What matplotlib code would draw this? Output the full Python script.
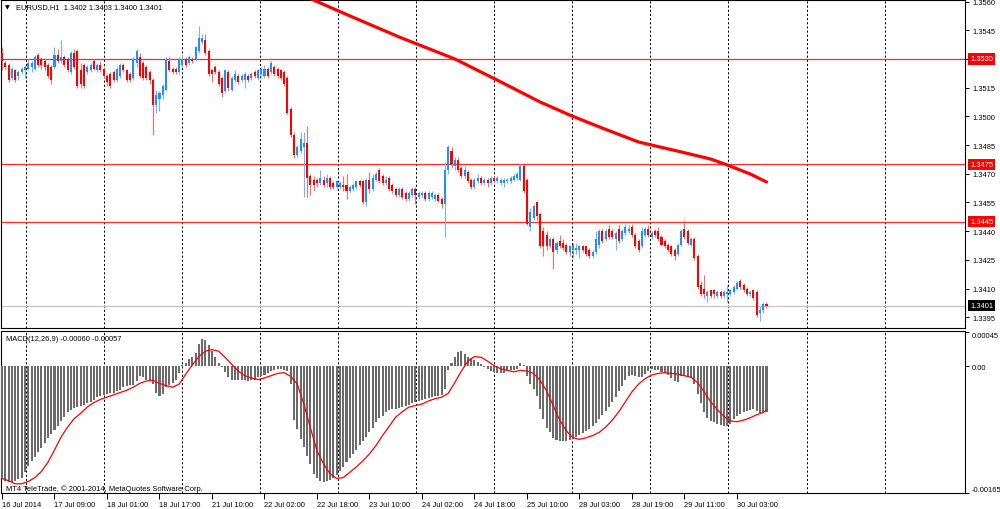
import numpy as np
import matplotlib
matplotlib.use("Agg")
import matplotlib.pyplot as plt
import matplotlib.transforms as mtrans

plt.rcParams["font.family"] = ["Liberation Sans", "DejaVu Sans"]

# ---------------- data (EURUSD H1) ----------------
opens = [
    1.3533, 1.3528, 1.3527, 1.3520, 1.3524, 1.3521, 1.3523, 1.3524, 1.3525, 1.3526,
    1.3525, 1.3532, 1.3530, 1.3529, 1.3527, 1.3526, 1.3526, 1.3532, 1.3529, 1.3531,
    1.3530, 1.3523, 1.3533, 1.3534, 1.3524, 1.3527, 1.3523, 1.3524, 1.3529, 1.3524,
    1.3527, 1.3525, 1.3521, 1.3522, 1.3523, 1.3519, 1.3521, 1.3527, 1.3524, 1.3522,
    1.3520, 1.3528, 1.3531, 1.3528, 1.3526, 1.3523, 1.3519, 1.3506, 1.3509, 1.3511,
    1.3514, 1.3529, 1.3525, 1.3525, 1.3523, 1.3527, 1.3530, 1.3528, 1.3530, 1.3530,
    1.3534, 1.3539, 1.3540, 1.3534, 1.3524, 1.3526, 1.3523, 1.3520, 1.3513, 1.3523,
    1.3514, 1.3519, 1.3521, 1.3519, 1.3519, 1.3521, 1.3520, 1.3523, 1.3520, 1.3522,
    1.3521, 1.3525, 1.3523, 1.3526, 1.3525, 1.3524, 1.3523, 1.3520, 1.3504, 1.3490,
    1.3480, 1.3482, 1.3484, 1.3486, 1.3469, 1.3467, 1.3467, 1.3465, 1.3467, 1.3465,
    1.3468, 1.3465, 1.3463, 1.3463, 1.3464, 1.3464, 1.3461, 1.3462, 1.3463, 1.3466,
    1.3466, 1.3455, 1.3467, 1.3462, 1.3467, 1.3472, 1.3469, 1.3465, 1.3468, 1.3464,
    1.3462, 1.3459, 1.3462, 1.3460, 1.3457, 1.3459, 1.3462, 1.3458, 1.3459, 1.3460,
    1.3457, 1.3458, 1.3457, 1.3459, 1.3457, 1.3454, 1.3472, 1.3482, 1.3474, 1.3477,
    1.3473, 1.3469, 1.3471, 1.3467, 1.3463, 1.3466, 1.3468, 1.3465, 1.3467, 1.3465,
    1.3468, 1.3466, 1.3465, 1.3465, 1.3466, 1.3466, 1.3467, 1.3468, 1.3467, 1.3474,
    1.3467, 1.3442, 1.3447, 1.3455, 1.3449, 1.3440, 1.3438, 1.3432, 1.3436, 1.3430,
    1.3435, 1.3434, 1.3433, 1.3429, 1.3430, 1.3430, 1.3430, 1.3432, 1.3432, 1.3430,
    1.3427, 1.3429, 1.3433, 1.3440, 1.3436, 1.3441, 1.3440, 1.3436, 1.3441, 1.3436,
    1.3439, 1.3440, 1.3442, 1.3438, 1.3435, 1.3432, 1.3438, 1.3441, 1.3437, 1.3440,
    1.3440, 1.3437, 1.3435, 1.3433, 1.3432, 1.3430, 1.3428, 1.3433, 1.3441, 1.3440,
    1.3433, 1.3436, 1.3427, 1.3412, 1.3410, 1.3406, 1.3409, 1.3409, 1.3406, 1.3408,
    1.3406, 1.3407, 1.3407, 1.3408, 1.3410, 1.3414, 1.3412, 1.3410, 1.3407, 1.3409,
    1.3408, 1.3397, 1.3399, 1.3402,
]
highs = [
    1.3536, 1.3529, 1.3528, 1.3526, 1.3525, 1.3524, 1.3526, 1.3527, 1.3530, 1.3529,
    1.3532, 1.3533, 1.3531, 1.3530, 1.3528, 1.3527, 1.3536, 1.3535, 1.3540, 1.3532,
    1.3531, 1.3534, 1.3535, 1.3535, 1.3528, 1.3528, 1.3527, 1.3528, 1.3530, 1.3528,
    1.3529, 1.3526, 1.3522, 1.3523, 1.3524, 1.3526, 1.3528, 1.3528, 1.3525, 1.3523,
    1.3531, 1.3535, 1.3533, 1.3529, 1.3527, 1.3524, 1.3520, 1.3514, 1.3513, 1.3517,
    1.3531, 1.3531, 1.3526, 1.3526, 1.3531, 1.3532, 1.3531, 1.3532, 1.3531, 1.3537,
    1.3547, 1.3543, 1.3543, 1.3535, 1.3525, 1.3527, 1.3524, 1.3521, 1.3525, 1.3524,
    1.3521, 1.3524, 1.3522, 1.3522, 1.3523, 1.3522, 1.3523, 1.3524, 1.3525, 1.3526,
    1.3527, 1.3526, 1.3529, 1.3527, 1.3526, 1.3525, 1.3524, 1.3521, 1.3505, 1.3492,
    1.3485, 1.3492, 1.3492, 1.3495, 1.3470, 1.3469, 1.3468, 1.3472, 1.3469, 1.3470,
    1.3469, 1.3466, 1.3467, 1.3466, 1.3469, 1.3470, 1.3464, 1.3465, 1.3467, 1.3467,
    1.3467, 1.3468, 1.3471, 1.3470, 1.3471, 1.3473, 1.3470, 1.3469, 1.3469, 1.3465,
    1.3463, 1.3463, 1.3463, 1.3461, 1.3461, 1.3463, 1.3463, 1.3461, 1.3461, 1.3461,
    1.3461, 1.3461, 1.3460, 1.3460, 1.3458, 1.3476, 1.3485, 1.3484, 1.3479, 1.3479,
    1.3474, 1.3474, 1.3472, 1.3468, 1.3468, 1.3470, 1.3469, 1.3468, 1.3468, 1.3469,
    1.3469, 1.3469, 1.3468, 1.3468, 1.3468, 1.3469, 1.3470, 1.3471, 1.3475, 1.3475,
    1.3468, 1.3452, 1.3454, 1.3456, 1.3450, 1.3442, 1.3440, 1.3437, 1.3437, 1.3435,
    1.3438, 1.3436, 1.3434, 1.3433, 1.3434, 1.3434, 1.3433, 1.3433, 1.3433, 1.3431,
    1.3430, 1.3440, 1.3441, 1.3441, 1.3441, 1.3443, 1.3441, 1.3440, 1.3443, 1.3441,
    1.3444, 1.3443, 1.3444, 1.3439, 1.3436, 1.3442, 1.3442, 1.3443, 1.3440, 1.3441,
    1.3442, 1.3438, 1.3436, 1.3434, 1.3433, 1.3431, 1.3434, 1.3441, 1.3446, 1.3441,
    1.3437, 1.3437, 1.3428, 1.3414, 1.3417, 1.3409, 1.3410, 1.3410, 1.3409, 1.3409,
    1.3409, 1.3412, 1.3410, 1.3412, 1.3414, 1.3415, 1.3413, 1.3411, 1.3409, 1.3410,
    1.3409, 1.3401, 1.3403, 1.3403,
]
lows = [
    1.3524, 1.3525, 1.3518, 1.3519, 1.3518, 1.3519, 1.3522, 1.3520, 1.3524, 1.3523,
    1.3524, 1.3526, 1.3525, 1.3524, 1.3520, 1.3517, 1.3525, 1.3528, 1.3528, 1.3526,
    1.3523, 1.3522, 1.3525, 1.3515, 1.3515, 1.3515, 1.3522, 1.3523, 1.3524, 1.3523,
    1.3523, 1.3520, 1.3516, 1.3515, 1.3518, 1.3518, 1.3520, 1.3523, 1.3518, 1.3518,
    1.3519, 1.3526, 1.3520, 1.3519, 1.3519, 1.3517, 1.3490, 1.3502, 1.3503, 1.3509,
    1.3513, 1.3523, 1.3522, 1.3522, 1.3522, 1.3526, 1.3526, 1.3527, 1.3528, 1.3529,
    1.3533, 1.3538, 1.3532, 1.3521, 1.3518, 1.3522, 1.3516, 1.3510, 1.3512, 1.3513,
    1.3513, 1.3518, 1.3517, 1.3518, 1.3515, 1.3518, 1.3519, 1.3520, 1.3519, 1.3521,
    1.3520, 1.3520, 1.3522, 1.3521, 1.3520, 1.3519, 1.3516, 1.3501, 1.3489, 1.3478,
    1.3479, 1.3481, 1.3458, 1.3458, 1.3459, 1.3461, 1.3463, 1.3464, 1.3463, 1.3463,
    1.3462, 1.3462, 1.3462, 1.3462, 1.3461, 1.3457, 1.3460, 1.3461, 1.3462, 1.3463,
    1.3454, 1.3453, 1.3460, 1.3461, 1.3466, 1.3465, 1.3464, 1.3464, 1.3461, 1.3460,
    1.3458, 1.3458, 1.3457, 1.3456, 1.3456, 1.3458, 1.3454, 1.3457, 1.3458, 1.3456,
    1.3456, 1.3457, 1.3456, 1.3455, 1.3452, 1.3437, 1.3470, 1.3473, 1.3472, 1.3471,
    1.3468, 1.3468, 1.3465, 1.3462, 1.3462, 1.3465, 1.3464, 1.3464, 1.3463, 1.3464,
    1.3465, 1.3465, 1.3464, 1.3463, 1.3465, 1.3465, 1.3466, 1.3467, 1.3466, 1.3460,
    1.3443, 1.3440, 1.3446, 1.3446, 1.3431, 1.3427, 1.3430, 1.3431, 1.3420, 1.3428,
    1.3431, 1.3430, 1.3428, 1.3427, 1.3426, 1.3428, 1.3426, 1.3429, 1.3427, 1.3426,
    1.3426, 1.3428, 1.3431, 1.3434, 1.3435, 1.3436, 1.3436, 1.3430, 1.3434, 1.3435,
    1.3438, 1.3439, 1.3437, 1.3431, 1.3429, 1.3431, 1.3437, 1.3437, 1.3436, 1.3437,
    1.3435, 1.3432, 1.3431, 1.3429, 1.3427, 1.3425, 1.3427, 1.3432, 1.3436, 1.3433,
    1.3432, 1.3425, 1.3410, 1.3406, 1.3405, 1.3403, 1.3405, 1.3405, 1.3405, 1.3405,
    1.3405, 1.3403, 1.3406, 1.3407, 1.3409, 1.3410, 1.3408, 1.3406, 1.3406, 1.3404,
    1.3395, 1.3393, 1.3397, 1.3400,
]
closes = [
    1.3529, 1.3526, 1.3519, 1.3525, 1.3519, 1.3523, 1.3525, 1.3526, 1.3528, 1.3528,
    1.3531, 1.3527, 1.3527, 1.3526, 1.3521, 1.3519, 1.3532, 1.3529, 1.3531, 1.3527,
    1.3524, 1.3533, 1.3526, 1.3516, 1.3517, 1.3516, 1.3526, 1.3527, 1.3525, 1.3527,
    1.3524, 1.3521, 1.3518, 1.3516, 1.3519, 1.3525, 1.3527, 1.3524, 1.3519, 1.3519,
    1.3530, 1.3534, 1.3521, 1.3520, 1.3520, 1.3519, 1.3506, 1.3511, 1.3512, 1.3516,
    1.3530, 1.3524, 1.3523, 1.3523, 1.3530, 1.3530, 1.3527, 1.3531, 1.3529, 1.3536,
    1.3541, 1.3541, 1.3533, 1.3522, 1.3522, 1.3523, 1.3517, 1.3512, 1.3524, 1.3515,
    1.3520, 1.3522, 1.3518, 1.3521, 1.3522, 1.3519, 1.3522, 1.3521, 1.3524, 1.3525,
    1.3525, 1.3521, 1.3528, 1.3522, 1.3521, 1.3520, 1.3517, 1.3502, 1.3490, 1.3480,
    1.3484, 1.3488, 1.3486, 1.3468, 1.3464, 1.3464, 1.3465, 1.3468, 1.3464, 1.3468,
    1.3463, 1.3463, 1.3466, 1.3465, 1.3463, 1.3461, 1.3463, 1.3464, 1.3466, 1.3464,
    1.3455, 1.3467, 1.3462, 1.3468, 1.3470, 1.3466, 1.3465, 1.3467, 1.3462, 1.3461,
    1.3459, 1.3462, 1.3458, 1.3457, 1.3460, 1.3462, 1.3459, 1.3460, 1.3460, 1.3457,
    1.3460, 1.3460, 1.3459, 1.3456, 1.3454, 1.3472, 1.3484, 1.3475, 1.3477, 1.3472,
    1.3469, 1.3472, 1.3466, 1.3463, 1.3467, 1.3468, 1.3465, 1.3467, 1.3465, 1.3468,
    1.3466, 1.3468, 1.3467, 1.3467, 1.3467, 1.3468, 1.3469, 1.3470, 1.3474, 1.3461,
    1.3444, 1.3450, 1.3453, 1.3448, 1.3432, 1.3432, 1.3432, 1.3436, 1.3429, 1.3434,
    1.3432, 1.3431, 1.3429, 1.3432, 1.3433, 1.3431, 1.3432, 1.3430, 1.3428, 1.3427,
    1.3429, 1.3436, 1.3440, 1.3435, 1.3440, 1.3437, 1.3437, 1.3439, 1.3435, 1.3440,
    1.3442, 1.3441, 1.3438, 1.3432, 1.3430, 1.3440, 1.3441, 1.3438, 1.3439, 1.3438,
    1.3436, 1.3433, 1.3432, 1.3430, 1.3428, 1.3427, 1.3433, 1.3440, 1.3437, 1.3434,
    1.3436, 1.3426, 1.3411, 1.3407, 1.3407, 1.3408, 1.3406, 1.3407, 1.3408, 1.3406,
    1.3408, 1.3408, 1.3409, 1.3411, 1.3413, 1.3411, 1.3409, 1.3407, 1.3408, 1.3405,
    1.3396, 1.3399, 1.3402, 1.3401,
]

# MACD main line (histogram), in units of 0.00001
macd_hist = [
    -145, -149, -151, -151, -150, -147, -145, -138, -130, -123,
    -118, -112, -106, -100, -93, -88, -83, -77, -71, -66,
    -60, -57, -54, -53, -51, -50, -48, -46, -44, -40,
    -38, -37, -36, -35, -34, -32, -31, -27, -25, -24,
    -24, -19, -13, -14, -18, -19, -23, -35, -38, -36,
    -27, -24, -21, -18, -8, 2, 4, 10, 13, 18,
    29, 36, 34, 28, 20, 12, 5, -1, -7, -14,
    -17, -17, -17, -18, -18, -19, -18, -17, -14, -13,
    -11, -8, -6, -5, -3, -3, -4, -6, -23, -70,
    -82, -95, -105, -117, -127, -140, -146, -150, -151, -150,
    -148, -146, -141, -136, -131, -125, -120, -114, -109, -103,
    -97, -92, -86, -80, -73, -67, -64, -60, -57, -56,
    -56, -54, -53, -52, -50, -48, -46, -45, -44, -43,
    -41, -40, -39, -38, -37, -30, -5, 5, 12, 19,
    20, 16, 13, 11, 9, 6, 3, -1, -3, -6,
    -7, -9, -9, -8, -6, -5, -4, -3, 5, 2,
    -13, -23, -30, -38, -56, -69, -80, -86, -93, -96,
    -97, -97, -97, -96, -95, -92, -90, -87, -84, -81,
    -78, -74, -69, -63, -58, -53, -46, -40, -32, -25,
    -18, -13, -11, -12, -14, -14, -10, -6, -3, -4,
    -5, -7, -9, -11, -15, -19, -20, -13, -13, -13,
    -15, -23, -36, -48, -60, -67, -71, -73, -75, -76,
    -77, -77, -75, -69, -65, -62, -60, -58, -57, -55,
    -58, -61, -61, -60,
]

# MACD signal line, read every second bar, in units of 0.00001
signal_bars = list(range(0, 233, 2)) + [233]
signal_vals = [
    -146, -149, -153, -153, -150, -145, -137, -125, -109, -92,
    -79, -68, -61, -53, -47, -43, -40, -37, -34, -31,
    -27, -22, -19, -18, -22, -25, -27, -23, -10, 2,
    13, 20, 22, 20, 12, 3, -6, -12, -15, -17,
    -15, -12, -9, -8, -13, -23, -49, -80, -110, -127,
    -140, -146, -145, -138, -131, -123, -114, -103, -90, -78,
    -66, -59, -53, -51, -49, -45, -42, -40, -35, -21,
    -6, 7, 13, 12, 7, 1, -3, -5, -7, -5,
    -6, -9, -18, -32, -51, -70, -84, -93, -95, -93,
    -90, -86, -79, -70, -59, -46, -33, -23, -16, -11,
    -9, -8, -9, -10, -12, -14, -21, -33, -46, -56,
    -65, -71, -72, -70, -67, -63, -60, -57,
]

# thick red moving average
ma_bars = [92, 106, 121, 138, 152, 164, 173, 182, 194, 207, 216, 221, 228, 233]
ma_vals = [1.35630, 1.35525, 1.35415, 1.35300, 1.35180, 1.35075, 1.35007,
           1.34945, 1.34866, 1.34814, 1.34777, 1.34746, 1.34699, 1.34657]

levels = [1.3530, 1.3475, 1.3445]
last_price = 1.3401

price_ticks = [1.3395, 1.3410, 1.3425, 1.3440, 1.3455, 1.3470,
               1.3485, 1.3500, 1.3515, 1.3530, 1.3545, 1.3560]
tick_bars = list(range(0, 225, 16))
tick_labels = ["16 Jul 2014", "17 Jul 09:00", "18 Jul 01:00", "18 Jul 17:00",
               "21 Jul 10:00", "22 Jul 02:00", "22 Jul 18:00", "23 Jul 10:00",
               "24 Jul 02:00", "24 Jul 18:00", "25 Jul 10:00", "28 Jul 03:00",
               "28 Jul 19:00", "29 Jul 11:00", "30 Jul 03:00"]

# ---------------- figure ----------------
W, H = 1000, 510
fig = plt.figure(figsize=(W / 100, H / 100), dpi=100)
fig.patch.set_facecolor("white")


def px_axes(x0, y0, x1, y1):
    return fig.add_axes([x0 / W, 1 - y1 / H, (x1 - x0) / W, (y1 - y0) / H])


def fpx(x, y):
    return x / W, 1 - y / H


ax = px_axes(1, 1, 965, 329)
axm = px_axes(1, 332, 965, 494)
FS = 5.4

for a in (ax, axm):
    a.set_xlim(-0.305, 293.5)
    for s in a.spines.values():
        s.set_color("black")
        s.set_linewidth(0.8)
    # vertical dotted grid
    for k in range(12):
        a.axvline(7.2 + 23.8 * k, color="black", lw=0.75, ls=(0, (2, 2)), zorder=1)

ax.set_ylim(1.33894, 1.35608)
axm.set_ylim(-0.00165, 0.000463)

# candles
idx = np.arange(len(closes))
o = np.array(opens)
c = np.array(closes)
up = c >= o
body_col = np.where(up, "#1e90ff", "#ff0000")
wick_col = np.where(up, "#6fb6ff", "#ff6a6a")
ax.vlines(idx, lows, highs, colors=wick_col, lw=0.8, zorder=3)
ax.bar(idx, np.maximum(np.abs(c - o), 0.00004), bottom=np.minimum(o, c),
       width=0.62, color=body_col, lw=0, zorder=4)

# levels, bid line, moving average
for lv in levels:
    ax.axhline(lv, color="#ff2a2a", lw=0.9, zorder=2)
ax.axhline(last_price, color="#c4c4c4", lw=0.9, zorder=2)
ax.plot(ma_bars, ma_vals, color="#ff0000", lw=2.3, zorder=5, solid_capstyle="round")

# right price scale
ax.yaxis.tick_right()
ax.set_yticks(price_ticks)
ax.set_yticklabels([f"{v:.4f}" for v in price_ticks])
ax.tick_params(axis="y", direction="out", length=3, width=0.7, pad=2, labelsize=FS)
ax.tick_params(axis="x", bottom=False, labelbottom=False)

tr = mtrans.blended_transform_factory(fig.transFigure, ax.transData)
for lv in levels:
    ax.text(970 / W, lv, f"{lv:.4f}", transform=tr, fontsize=FS, color="white",
            va="center", ha="left", clip_on=False, zorder=10,
            bbox=dict(boxstyle="square,pad=0.28", fc="#ff0000", ec="none"))
ax.text(970 / W, last_price, f"{last_price:.4f}", transform=tr, fontsize=FS,
        color="white", va="center", ha="left", clip_on=False, zorder=10,
        bbox=dict(boxstyle="square,pad=0.28", fc="black", ec="none"))

# MACD panel
hist = np.array(macd_hist) * 1e-5
axm.bar(idx, hist, width=0.62, color="#6b6b6b", lw=0, zorder=3)
axm.plot(signal_bars, np.array(signal_vals) * 1e-5, color="#ff0000", lw=0.9, zorder=4)

axm.yaxis.tick_right()
axm.set_yticks([0.00045, 0.0, -0.00165])
axm.set_yticklabels(["0.00045", "0.00", "-0.00165"])
axm.tick_params(axis="y", direction="out", length=3, width=0.7, pad=2, labelsize=FS)
ylabs = axm.get_yticklabels()
ylabs[0].set_va("top")
ylabs[2].set_va("bottom")

axm.set_xticks(tick_bars)
axm.set_xticklabels(tick_labels)
axm.tick_params(axis="x", direction="out", length=4, width=0.7, pad=1.5, labelsize=FS)
for lab in axm.get_xticklabels():
    lab.set_ha("left")

# texts
fig.text(*fpx(5, 8), "\u25bc", fontsize=4.5, family="DejaVu Sans", va="center", ha="left")
fig.text(*fpx(16, 8), "EURUSD,H1  1.3402 1.3403 1.3400 1.3401", fontsize=FS,
         va="center", ha="left")
fig.text(*fpx(6, 340), "MACD(12,26,9) -0.00060 -0.00057", fontsize=FS,
         va="center", ha="left")
axm.text(*fpx(6, 489), "MT4 TeleTrade, \u00a9 2001-2014, MetaQuotes Software Corp.",
         transform=fig.transFigure, fontsize=FS, va="center", ha="left", zorder=1)

fig.savefig("out.png", dpi=100, facecolor="white")
